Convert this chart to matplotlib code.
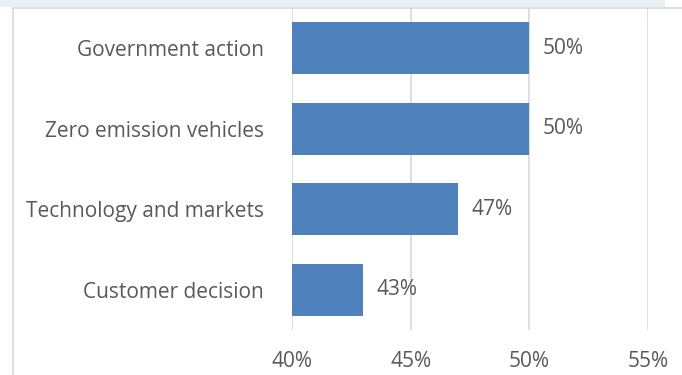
import matplotlib
matplotlib.use('Agg')
from matplotlib import pyplot as plt
from matplotlib.lines import Line2D
from matplotlib.patches import Rectangle

categories = ['Government action', 'Zero emission vehicles', 'Technology and markets', 'Customer decision']
values = [0.50, 0.50, 0.47, 0.43]
xticks = [0.40, 0.45, 0.50, 0.55]
xticklabels = ['40%', '45%', '50%', '55%']

plt.rcParams['font.family'] = ['Open Sans', 'DejaVu Sans']
text_color = '#595959'
fsize = 15

fig = plt.figure(figsize=(6.82, 3.75), dpi=100)
ax = fig.add_axes([292 / 682, 1 - 330 / 375, (648 - 292) / 682, (330 - 8) / 375])

ypos = list(range(len(categories)))
ax.barh(ypos, values, height=0.65, color='#4F81BD', zorder=3)
for y, v in zip(ypos, values):
    ax.text(v + 0.0055, y, f'{v * 100:.0f}%', va='center', ha='left',
            fontsize=fsize, color=text_color)

ax.set_xlim(0.40, 0.55)
ax.set_ylim(len(categories) - 0.5, -0.5)
ax.set_xticks(xticks)
ax.set_xticklabels(xticklabels)
ax.set_yticks(ypos)
ax.set_yticklabels(categories)
ax.tick_params(axis='x', length=0, pad=15, labelsize=fsize, labelcolor=text_color)
ax.tick_params(axis='y', length=0, pad=20, labelsize=fsize, labelcolor=text_color)
ax.grid(axis='x', color='#d9d9d9', linewidth=1.2, zorder=0)
for s in ax.spines.values():
    s.set_visible(False)

# light strip and chart frame along the top and left
fig.patches.append(Rectangle((0, 1 - 7 / 375), 665 / 682, 7 / 375, transform=fig.transFigure,
                             facecolor='#e5f0f7', edgecolor='none'))
fig.lines.append(Line2D([12.5 / 682, 1], [1 - 7.5 / 375] * 2, transform=fig.transFigure,
                        color='#d9d9d9', linewidth=1.2))
fig.lines.append(Line2D([12.5 / 682] * 2, [0, 1 - 7.5 / 375], transform=fig.transFigure,
                        color='#d9d9d9', linewidth=1.2))

fig.savefig('out.png', dpi=100)
